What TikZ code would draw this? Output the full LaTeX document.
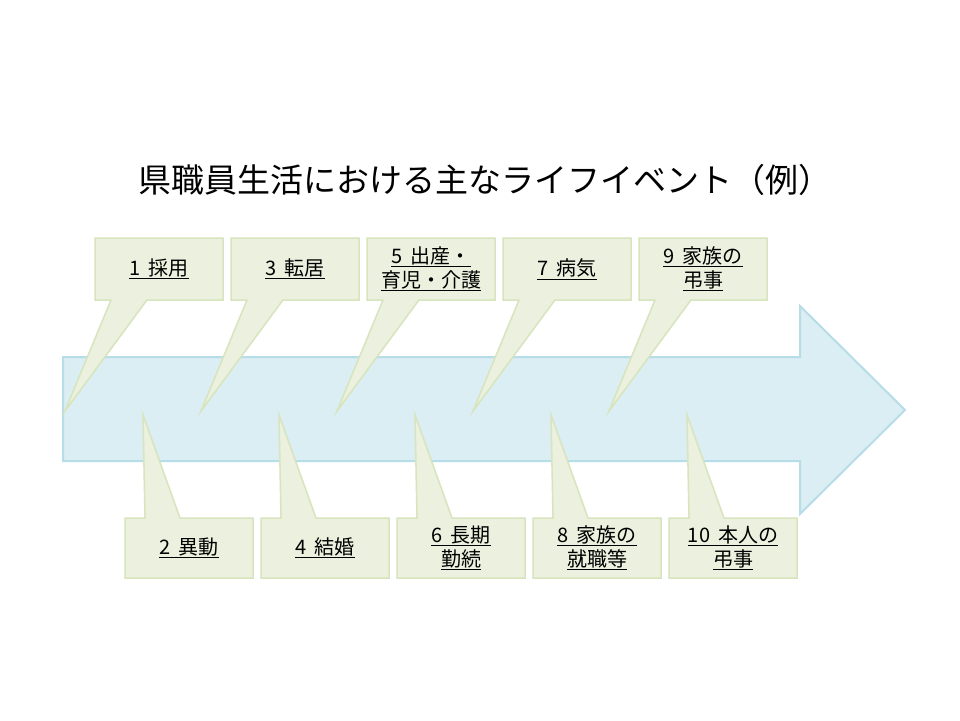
\documentclass[tikz,border=0pt]{standalone}
\usepackage{fontspec}
\setmainfont{Noto Sans CJK JP}
\definecolor{arrfill}{HTML}{DAEEF3}
\definecolor{arrline}{HTML}{B7DDE8}
\definecolor{boxfill}{HTML}{EBF1DE}
\definecolor{boxline}{HTML}{D7E4BD}
\tikzset{callout/.style={fill=boxfill,draw=boxline,line width=1.5pt,line join=miter},
lbl/.style={font=\fontsize{20}{24}\selectfont,align=center,inner sep=0pt}}
\newcommand{\topcall}[4]{%
 \draw[callout] (#1,238)--(#1+128,238)--(#1+128,300)--(#1+52,300)--(#1-30,411)--(#1+16,300)--(#1,300)--cycle;
 \node[lbl] (#3) at (#1+64,269) {#4};}
\newcommand{\botcall}[4]{%
 \draw[callout] (#1,518)--(#1+20,518)--(#1+18,415)--(#1+55,518)--(#1+128,518)--(#1+128,578)--(#1,578)--cycle;
 \node[lbl] (#3) at (#1+64,548) {#4};}
\newcommand{\ul}[2]{\underline{#1\hspace{0.4em}#2}}
\begin{document}
\begin{tikzpicture}[x=1pt,y=-1pt]
\useasboundingbox (0,0) rectangle (960,720);
\fill[white] (0,0) rectangle (960,720);
\node[font=\fontsize{33}{36}\selectfont] (title) at (485,180) {県職員生活における主なライフイベント（例）};
\draw[fill=arrfill,draw=arrline,line width=2pt] (63,357)--(800,357)--(800,306)--(905,410)--(800,514)--(800,461)--(63,461)--cycle;
\topcall{95}{}{t1}{\ul{1}{採用}}
\topcall{231}{}{t3}{\ul{3}{転居}}
\topcall{367}{}{t5}{\ul{5}{出産・}\\\underline{育児・介護}}
\topcall{503}{}{t7}{\ul{7}{病気}}
\topcall{639}{}{t9}{\ul{9}{家族の}\\\underline{弔事}}
\botcall{125}{}{b2}{\ul{2}{異動}}
\botcall{261}{}{b4}{\ul{4}{結婚}}
\botcall{397}{}{b6}{\ul{6}{長期}\\\underline{勤続}}
\botcall{533}{}{b8}{\ul{8}{家族の}\\\underline{就職等}}
\botcall{669}{}{b10}{\ul{10}{本人の}\\\underline{弔事}}
\end{tikzpicture}
\end{document}
